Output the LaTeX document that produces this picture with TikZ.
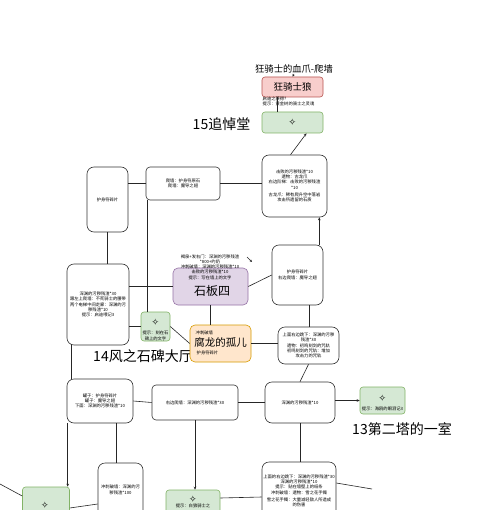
\documentclass[tikz,border=0pt]{standalone}
\usepackage{fontspec}
\newfontfamily\cjk{Noto Sans CJK SC}
\newfontfamily\symf{DejaVu Sans}
\usetikzlibrary{arrows.meta}
\definecolor{gfill}{HTML}{D5E8D4}\definecolor{gline}{HTML}{82B366}
\definecolor{pfill}{HTML}{F8CECC}\definecolor{pline}{HTML}{B85450}
\definecolor{ufill}{HTML}{E1D5E7}\definecolor{uline}{HTML}{9673A6}
\definecolor{ofill}{HTML}{FFE6CC}\definecolor{oline}{HTML}{D79B00}
\newcommand\tinytxt{\cjk\fontsize{4.3}{5.3}\selectfont}
\tikzset{
  conn/.style={line width=0.6pt, draw=black!85},
  tip/.style={-{Stealth[length=3pt,width=2.6pt]}},
  wbox/.style={draw=black!80, line width=0.6pt, rounded corners=7pt, fill=white, align=center, font=\tinytxt, inner sep=1pt},
  gbox/.style={draw=gline, fill=gfill, line width=0.6pt, rounded corners=3pt, inner sep=1pt},
  pbox/.style={draw=pline, fill=pfill, line width=0.6pt, rounded corners=3pt, inner sep=1pt},
  ubox/.style={draw=uline, fill=ufill, line width=0.6pt, rounded corners=5pt, inner sep=1pt},
  obox/.style={draw=oline, fill=ofill, line width=0.6pt, rounded corners=5pt, inner sep=1pt},
  small/.style={font=\tinytxt, align=center, inner sep=0.5pt},
  bigt/.style={font=\cjk\fontsize{14}{15}\selectfont, inner sep=0pt},
  star/.style={font=\symf\fontsize{9}{9}\selectfont, inner sep=0pt}
}
\begin{document}
\begin{tikzpicture}[x=1pt,y=-1pt]
\useasboundingbox (0,0) rectangle (500,510);
\clip (0,0) rectangle (500,510);
\fill[white] (0,0) rectangle (500,510);

% top
\node[font=\cjk\fontsize{9.3}{10}\selectfont, inner sep=0.5pt] (T) at (294,69) {狂骑士的血爪-爬墙};
\node[pbox, minimum width=61pt, minimum height=20pt, font=\cjk\fontsize{9.5}{10}\selectfont] (P) at (292.5,87) {狂骑士狼};
\node[small, anchor=north west, align=left] (Pn) at (262,96) {启迪之获得？\\提示：黄金树的骑士之灵魂};
\node[gbox, minimum width=61pt, minimum height=21pt] (G15) at (292.5,122.5) {};
\node[star] (S15) at (G15) {✧};
\node[bigt] (L15) at (221.5,124) {15追悼堂};

% boxes
\node[wbox, minimum width=65pt, minimum height=62pt] (A) at (294.5,186) {击败的污秽残渣*10\\遗物：古龙爪\\右边阶梯：击败的污秽残渣\\*10\\[2pt]古龙爪：稀有爬升空中落岩\\攻击所遗留的石质};
\node[wbox, minimum width=41pt, minimum height=65pt] (B) at (107.5,199.5) {护身符碎片};
\node[wbox, minimum width=74pt, minimum height=33pt, rounded corners=4pt] (C) at (183,183.5) {爬墙：护身符原石\\爬墙：魔导之翅};
\node[wbox, minimum width=62pt, minimum height=81pt] (D) at (98,304.5) {深渊的污秽残渣*30\\跟左上爬墙：不死骑士的腰带\\两个电梯中间走廊：深渊的污\\秽残渣*10\\提示：启迪喂记3};
\node[ubox, minimum width=75pt, minimum height=37pt] (PU) at (210.5,286.5) {};
\node[font=\cjk\fontsize{12}{13}\selectfont, inner sep=0pt] (PUt) at (212,291) {石板四};
\node[small] (PUn) at (210,267) {褐泉+发右门：深渊的污秽残渣\\*800+约奶\\冲刺破墙：深渊的污秽残渣*10\\击败的污秽残渣*10\\提示：写在墙上的文字};
\coordinate (s1) at (247,257);
\coordinate (s2) at (252,262);
\draw[conn, -{Stealth[length=2.5pt,width=2.2pt]}] (s1) -- (s2);
\node[wbox, minimum width=51pt, minimum height=60pt] (E) at (297.5,275) {护身符碎片\\右边爬墙：魔导之翅};
\node[gbox, minimum width=29pt, minimum height=29pt] (G14) at (155.5,326.5) {};
\node[star] (S14) at (155.5,322) {✧};
\node[small] (G14n) at (155.5,336) {提示：刻在石\\碑上的文字};
\node[bigt] (L14) at (143,356) {14风之石碑大厅};
\node[obox, minimum width=61pt, minimum height=37pt] (O) at (220.5,343.5) {};
\node[small, anchor=west] (On1) at (195,333) {冲刺破墙};
\node[font=\cjk\fontsize{10.5}{11}\selectfont, inner sep=0pt] (Ot) at (220.5,343) {腐龙的孤儿};
\node[small, anchor=west] (On2) at (196,352.5) {护身符碎片};
\node[wbox, minimum width=61pt, minimum height=37pt] (F) at (308.5,345.5) {上面右边跳下：深渊的污秽\\残渣*30\\遗物：初鸣刻剑的咒轨\\初鸣刻剑的咒轨：增加\\攻击力的咒轨};
\node[wbox, minimum width=70pt, minimum height=41pt] (G) at (300,402.5) {深渊的污秽残渣*10};
\node[gbox, minimum width=45pt, minimum height=27pt] (G13) at (382.5,400.5) {};
\node[star] (S13) at (382.5,398) {✧};
\node[small] (G13n) at (382.5,409) {提示：海鸥的眼泪记3};
\node[bigt] (L13) at (402,429) {13第二塔的一室};
\node[wbox, minimum width=86pt, minimum height=35pt, rounded corners=4pt] (H) at (195,402.5) {右边爬墙：深渊的污秽残渣*30};
\node[wbox, minimum width=66pt, minimum height=44pt] (I) at (100,401) {罐子：护身符碎片\\罐子：魔导之翅\\下面：深渊的污秽残渣*10};
\node[wbox, minimum width=45pt, minimum height=54pt] (J) at (120.5,490) {冲刺破墙：深渊的污\\秽残渣*100};
\node[gbox, minimum width=47pt, minimum height=36pt] (GL) at (46,505) {};
\node[star] (SL) at (45,505) {✧};
\node[gbox, minimum width=54pt, minimum height=34pt] (G2) at (193,507) {};
\node[star] (S2) at (193,499) {✧};
\node[small] (G2n) at (193,506) {提示：白狼骑士之};
\node[wbox, minimum width=74pt, minimum height=58pt] (K) at (299,491) {上面的右边跳下：深渊的污秽残渣*30\\深渊的污秽残渣*10\\提示：贴在墙壁上的纸条\\冲刺破墙：遗物：雪之花手镯\\[2pt]雪之花手镯：大量减轻敌人所造成\\的伤害};

% connectors
\draw[conn, -{Stealth[length=2.5pt,width=2.2pt]}] (T.south) -- (P.north);
\draw[conn] ([xshift=-15.5pt]P.south) -- ([xshift=-15.5pt]G15.north);
\draw[conn, tip] ([xshift=-4pt]A.north) -- ([xshift=14pt]G15.south);
\draw[conn] (B.east |- C.west) -- (C.west);
\draw[conn] (C.east) -- (C.east -| A.west);
\draw[conn] ([xshift=2pt]C.south west) -- ([xshift=2pt]C.south west |- G14.north);
\draw[conn] (B.south) -- (B.south |- D.north);
\draw[conn] (D.east |- PU.west) -- (PU.west);
\draw[conn] (D.east |- G14.west) -- (G14.west);
\draw[conn] (G14.east) -- (O.west);
\draw[conn] (PU.east) -- (E.west);
\draw[conn] (PU.south) -- (PU.south |- O.north);
\draw[conn, tip] ([xshift=-4pt]E.north east) -- ([xshift=-4pt]E.north east |- A.south);
\draw[conn] ([xshift=12pt]E.south) -- ([xshift=12pt]E.south |- F.north);
\draw[conn] (O.east) -- (O.east -| F.west);
\draw[conn] (F.south) -- (G.north);
\draw[conn, tip] (G.east |- G13.west) -- (G13.west);
\draw[conn] (G.west |- H.east) -- (H.east);
\draw[conn] (I.east) -- (H.west);
\draw[conn] ([xshift=5pt]D.south west) -- ([xshift=5pt]D.south west |- I.north);
\draw[conn, tip] ([xshift=1pt]I.south west) -- ([xshift=1pt]I.south west |- GL.north);
\draw[conn] ([xshift=16pt]I.south) -- ([xshift=16pt]I.south |- J.north);
\draw[conn] ([yshift=-3pt]GL.east) -- ([yshift=-14pt]J.west);
\coordinate (Lft) at (0,484);
\draw[conn] (Lft) -- ([yshift=9pt]GL.west);
\draw[conn, tip] (H.south) -- (H.south |- G2.north);
\draw[conn] ([yshift=9pt]G2.east) -- ([yshift=-6pt]K.west);
\draw[conn] (G.south) -- (G.south |- K.north);
\coordinate (Rt) at (372,489);
\draw[conn] ([yshift=8pt]K.east) -- (Rt);
\end{tikzpicture}
\end{document}
